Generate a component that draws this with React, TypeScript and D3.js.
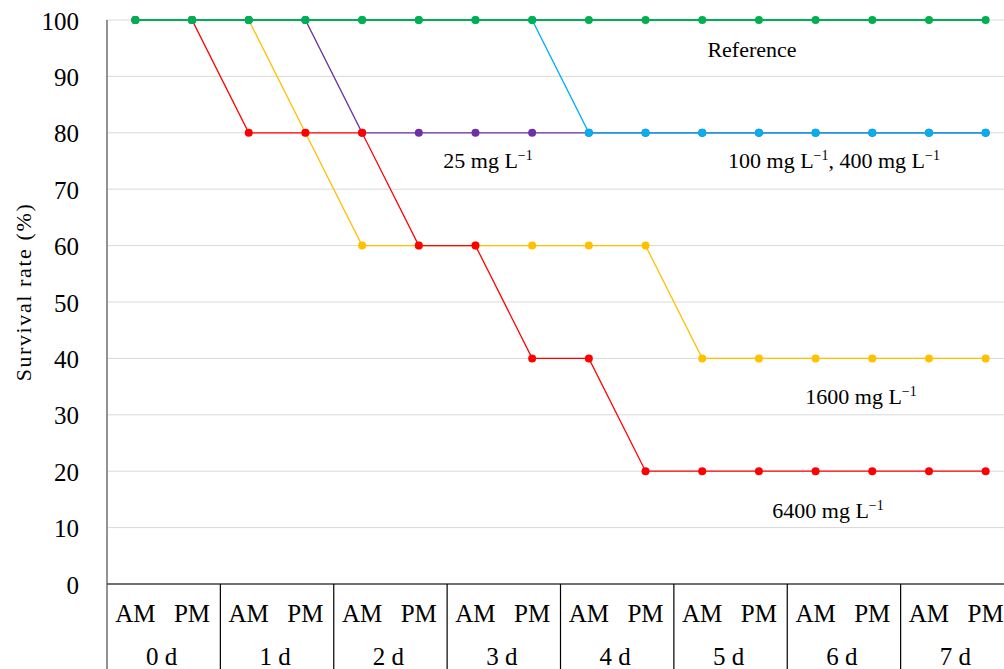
import React from "react";
import * as d3 from "d3";

const days = ["0 d", "1 d", "2 d", "3 d", "4 d", "5 d", "6 d", "7 d"];
const halves = ["AM", "PM"];
const yTicks = [0, 10, 20, 30, 40, 50, 60, 70, 80, 90, 100];

const reference = [100, 100, 100, 100, 100, 100, 100, 100, 100, 100, 100, 100, 100, 100, 100, 100];
const dose25 = [100, 100, 100, 100, 80, 80, 80, 80, 80, 80, 80, 80, 80, 80, 80, 80];
const dose100_400 = [100, 100, 100, 100, 100, 100, 100, 100, 80, 80, 80, 80, 80, 80, 80, 80];
const dose1600 = [100, 100, 100, 80, 60, 60, 60, 60, 60, 60, 40, 40, 40, 40, 40, 40];
const dose6400 = [100, 100, 80, 80, 80, 60, 60, 40, 40, 20, 20, 20, 20, 20, 20, 20];

const W = 1004;
const H = 669;
const left = 107;
const right = 1014;
const top = 20;
const bottom = 584;
const FONT = "'Liberation Serif', 'Times New Roman', serif";

const slots = days.flatMap((d) => halves.map((h) => `${d} ${h}`));

const series = [
  { name: "1600", values: dose1600, color: "#ffc000", width: 1.3 },
  { name: "25", values: dose25, color: "#7030a0", width: 1.3 },
  { name: "6400", values: dose6400, color: "#ff0000", width: 1.3 },
  { name: "100-400", values: dose100_400, color: "#00b0f0", width: 1.3 },
  { name: "ref", values: reference, color: "#00b050", width: 2 },
];

function Sup({ children }: { children: React.ReactNode }) {
  return (
    <tspan dy={-8} fontSize={14}>
      {children}
    </tspan>
  );
}

export default function App() {
  const x = d3.scaleBand<string>().domain(slots).range([left, right]);
  const xDay = d3.scaleBand<string>().domain(days).range([left, right]);
  const y = d3.scaleLinear().domain([0, 100]).range([bottom, top]);
  const cx = (i: number) => (x(slots[i]) as number) + x.bandwidth() / 2;
  const line = d3
    .line<number>()
    .x((_, i) => cx(i))
    .y((v) => y(v));

  const labelSize = 22;

  return (
    <svg
      width={W}
      height={H}
      style={{ position: "absolute", left: 0, top: 0, background: "#fff", overflow: "hidden" }}
      fontFamily={FONT}
    >
      {/* horizontal gridlines */}
      {yTicks
        .filter((t) => t > 0)
        .map((t) => (
          <line key={t} x1={left} x2={right} y1={y(t)} y2={y(t)} stroke="#d9d9d9" strokeWidth={1} />
        ))}
      {/* y axis */}
      <line x1={left} x2={left} y1={top} y2={H} stroke="#595959" strokeWidth={1.3} />
      {yTicks.map((t) => (
        <text key={t} x={79} y={y(t) + 1} textAnchor="end" dominantBaseline="central" fontSize={25} fill="#000">
          {t}
        </text>
      ))}
      <text
        transform={`translate(23,292) rotate(-90)`}
        textAnchor="middle"
        dominantBaseline="central"
        fontSize={22}
        letterSpacing={1.6}
      >
        Survival rate (%)
      </text>
      {/* x axis table */}
      <line x1={left} x2={right} y1={bottom} y2={bottom} stroke="#404040" strokeWidth={1.5} />
      {days.map((d, i) => {
        const x0 = xDay(d) as number;
        const c = x0 + xDay.bandwidth() / 2;
        return (
          <g key={d}>
            {i > 0 && <line x1={x0} x2={x0} y1={bottom} y2={H} stroke="#000" strokeWidth={1.2} />}
            {halves.map((h, j) => (
              <text key={h} x={cx(i * 2 + j)} y={622} textAnchor="middle" fontSize={25}>
                {h}
              </text>
            ))}
            <text x={c - 2} y={665} textAnchor="middle" fontSize={25}>
              {d}
            </text>
          </g>
        );
      })}
      {/* series */}
      {series.map((s) => (
        <g key={s.name}>
          <path d={line(s.values) as string} fill="none" stroke={s.color} strokeWidth={s.width} />
          {s.values.map((v, i) => (
            <circle key={i} cx={cx(i)} cy={y(v)} r={4} fill={s.color} />
          ))}
        </g>
      ))}
      {/* series labels */}
      <g fontSize={labelSize} textAnchor="middle" fill="#000">
        <text x={752} y={57}>
          Reference
        </text>
        <text x={488} y={168}>
          25 mg L<Sup>−1</Sup>
        </text>
        <text x={834} y={168}>
          100 mg L<Sup>−1</Sup>
          <tspan dy={8}>, 400 mg L</tspan>
          <Sup>−1</Sup>
        </text>
        <text x={861} y={404}>
          1600 mg L<Sup>−1</Sup>
        </text>
        <text x={828} y={518}>
          6400 mg L<Sup>−1</Sup>
        </text>
      </g>
    </svg>
  );
}
